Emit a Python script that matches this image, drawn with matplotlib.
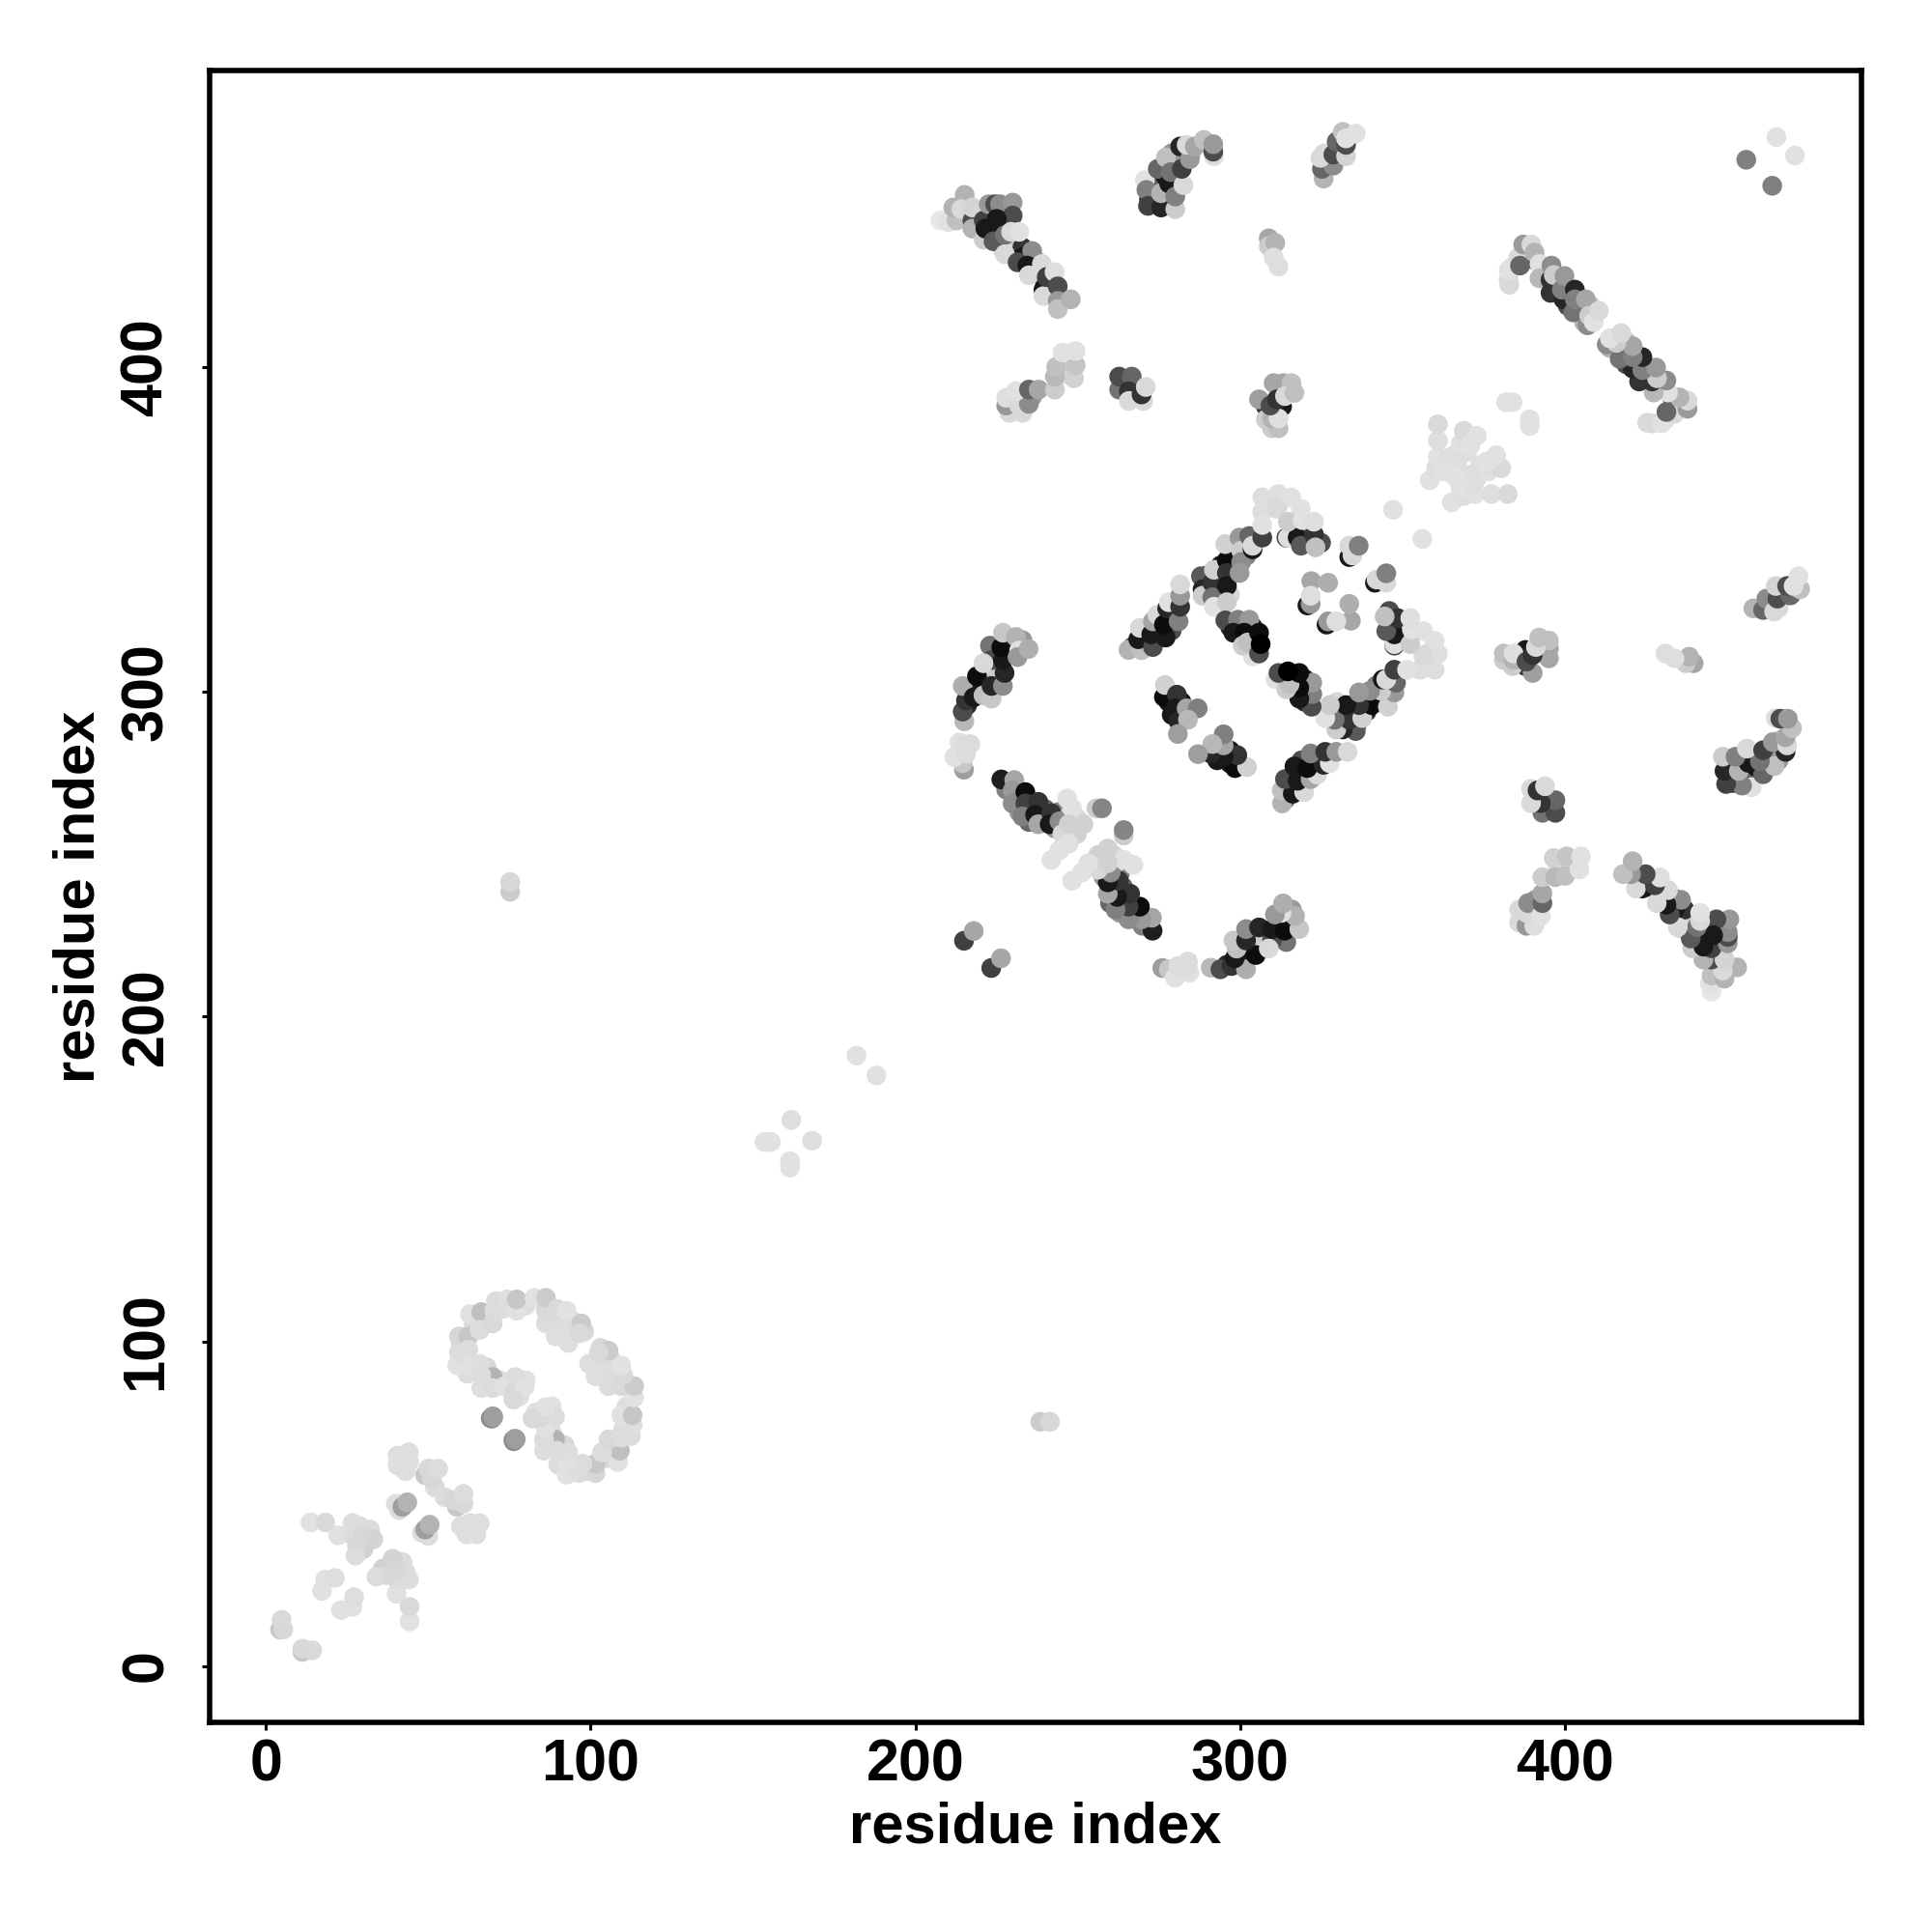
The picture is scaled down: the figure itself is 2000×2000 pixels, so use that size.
"""
Residue contact map, drawn once per pair and mirrored across the diagonal.
"""

import matplotlib.pyplot as plt
import numpy as np

plt.rcParams["font.family"] = ["Liberation Sans", "DejaVu Sans"]

TICKS = [0, 100, 200, 300, 400]

# contacts above the diagonal: i, j and grey level (0 black, 1 white)
# pairs mostly hidden under the later ones, they only show as crescents
under_i = [267, 271, 271, 275, 275, 279, 279, 280, 290, 290, 294, 294, 298, 298, 302, 304, 301, 294, 297,
           316, 320, 320, 325, 312, 317, 321, 300, 303, 304, 304, 297, 304, 278, 279, 282, 283,
           216, 219, 222, 224, 225, 229, 229, 233, 272, 273, 277, 279, 280, 277, 279, 285, 278,
           327, 330, 326, 219, 223, 226, 228, 226, 222, 229, 233, 233, 237, 238, 240, 241, 227,
           229, 233, 236, 246, 247, 264, 268, 308, 312, 310, 308, 313,
           384, 388, 391, 394, 397, 401, 405, 406, 408, 383,
           228, 232, 235, 239, 240, 243, 244, 246, 248, 250,
           29, 31, 30, 43, 51, 52, 41,
           60, 64, 68, 73, 80, 88, 91, 94, 95, 98, 62, 68, 72, 75, 78, 80, 362, 366, 367, 370]
under_j = [314, 315, 319, 318, 322, 323, 319, 325, 332, 336, 335, 339, 339, 343, 342, 347, 346, 331, 330,
           350, 349, 346, 346, 358, 352, 350, 320, 317, 320, 313, 320, 311, 297, 293, 297, 293,
           296, 301, 304, 306, 312, 312, 315, 316, 452, 456, 459, 464, 458, 450, 466, 466, 452,
           463, 467, 466, 448, 447, 448, 444, 440, 441, 437, 437, 434, 433, 429, 426, 423, 436,
           386, 386, 391, 398, 402, 395, 394, 388, 387, 386, 384, 388,
           431, 434, 433, 429, 425, 419, 418, 414, 419, 425.5,
           270, 263, 260, 261, 264, 258, 263, 261, 257, 261,
           39, 38, 36, 60, 59, 55, 48,
           99, 105, 107, 110, 111, 107, 104, 104, 106, 103, 90, 92, 88, 87, 83, 88, 371, 369, 371, 374]
under_g = [.3, .05, .1, .1, .15, .1, .3, .4, .1, .3, .05, .1, .1, .5, .5, .2, .3, .3, .85,
           .2, .05, .2, .3, .85, .85, .85, .1, .05, .1, .2, .15, .88, .1, .1, .1, .5,
           .15, .1, .15, .8, .2, .2, .1, .6, .2, .4, .1, .15, .1, .15, .6, .8, .85,
           .1, .2, .85, .8, .15, .1, .2, .1, .7, .8, .2, .1, .4, .3, .2, .1, .88,
           .85, .85, .6, .85, .85, .6, .1, .2, .2, .85, .8, .1,
           .85, .5, .3, .15, .1, .3, .2, .7, .75, .85,
           .5, .6, .4, .2, .4, .6, .5, .75, .8, .85,
           .85, .84, .82, .87, .82, .86, .86,
           .87, .85, .82, .86, .87, .85, .86, .87, .86, .85, .86, .85, .86, .85, .87, .88, .87, .88, .87, .87]

start_i = [4.3, 5.3, 4.8, 13.7, 18.2, 22.2, 26.6, 29, 32, 27, 30, 33, 28, 27.5, 17.2, 18.2, 21.2]
start_j = [11.2, 11.2, 14.2, 44.2, 44.2, 40.2, 44, 43, 42, 40, 40, 39, 37, 34, 23.1, 26.6, 27.1]
start_g = [.78, .84, .85, .88, .85, .88, .87, .86, .86, .86, .84, .83, .84, .86, .88, .88, .87]

sheet_i = [40.5, 44, 40.5, 44, 49, 51, 50, 53, 40, 42, 43.5]
sheet_j = [64.8, 65.8, 61.8, 62.8, 58.8, 57.8, 60.8, 60.8, 50, 49, 50.4]
sheet_g = [.87, .87, .87, .87, .78, .84, .85, .86, .87, .62, .7]

ring_i = [58.9, 59.4, 59.4, 62.3, 62.3, 62.8, 62.8, 66.3, 65.8, 69.8, 70.8, 70.3, 74.2, 77.2, 77.2,
          82.7, 86.2, 86.2, 86.2, 89.6, 89.2, 92.6, 93.1, 97.1, 96.6,
          65.8, 69.8, 66.3, 66.3, 69.8, 73.3, 76.7, 76.7, 79.7, 76.2, 69.2, 69.8, 76.2, 76.7]
ring_j = [92.6, 96.5, 101.5, 101.5, 97.5, 92.6, 108.4, 109, 103.5, 105.5, 112.4, 109.4, 112.9, 109.4, 112.9,
          113.4, 105.5, 109.4, 113.4, 110, 101.5, 109.4, 99.5, 105.5, 102.5,
          93, 89, 89.6, 85.6, 85.6, 86.1, 89, 84.6, 86.1, 82.1, 76.3, 76.9, 69.6, 70]
ring_g = [.88, .86, .84, .78, .86, .88, .88, .75, .86, .85, .86, .86, .87, .88, .78,
          .88, .86, .85, .8, .85, .87, .88, .87, .8, .85,
          .87, .7, .86, .87, .86, .88, .86, .85, .88, .85, .55, .62, .55, .62]

lone_i = [75.2, 75.2, 153.5, 155.5, 161.8, 181.9, 347.2, 382, 384, 456, 465.3]
lone_j = [238.5, 241.5, 161.4, 161.4, 168.2, 188, 356.2, 389.3, 389.3, 464, 471]
lone_g = [.8, .84, .88, .88, .87, .88, .88, .88, .88, .5, .88]

cross_i = [358.5, 360.4, 361, 361, 361, 362.5, 364, 365.4, 366, 368, 369.5, 369, 371, 373]
cross_j = [365.3, 369, 372.5, 377.5, 382.5, 368, 372, 367.2, 373, 376.5, 378, 380.5, 376, 379]
cross_g = [.88, .87, .88, .87, .85, .88, .87, .88, .87, .88, .87, .85, .88, .88]

hairpin_a_i = [215.1, 214.6, 215.6, 214.6, 218, 219, 221, 223.5, 223.5, 227, 223, 223.5, 221, 227.5, 227, 226.5, 227, 231, 232, 231.5, 234.9]
hairpin_a_j = [291, 294, 297.4, 301.9, 298.4, 304.9, 299, 298, 301.9, 301.9, 314.3, 309.9, 308.9, 305.9, 309.9, 313.8, 318.3, 317, 312.8, 310.8, 313.3]
hairpin_a_g = [.72, .3, .2, .68, .1, .05, .75, .78, .15, .55, .45, .3, .85, .15, .1, .05, .78, .7, .88, .6, .68]

end_a_i = [215, 214.6, 212, 213.6, 215.6, 217, 215]
end_a_j = [276.1, 278.1, 280, 284.5, 281, 284, 283.5]
end_a_g = [.62, .78, .88, .88, .86, .86, .86]

pair_i = [215, 218]
pair_j = [223.4, 226.4]
pair_g = [.25, .65]

strand_i = [226.5, 230.5, 230, 230, 233.9, 233.9, 237.9, 233, 236.9, 237.9, 241.9, 241.4, 244.4,
            246.8, 248.3, 245.3, 247.3, 249.8, 251.8, 244.4, 241.9, 247.3, 255.8, 257.5]
strand_j = [273.1, 272.9, 269.7, 265.7, 269.2, 265.7, 266.2, 261.7, 262.2, 259.3, 262.7, 259.3, 260.2,
            267.2, 264.2, 256.3, 259.3, 256.3, 259.3, 251.3, 248.3, 253.3, 264.2, 264.2]
strand_g = [.12, .65, .6, .55, .05, .25, .2, .5, .1, .65, .2, .1, .55,
            .88, .88, .85, .82, .82, .82, .88, .88, .88, .8, .52]

core_a_i = [265.7, 269.7, 268.7, 269.2, 273.2, 272.7, 273.2, 274.6, 277.1, 276.6, 277.6, 278.1, 281.1, 281.6, 281.6, 281.6]
core_a_j = [313, 312.9, 316.3, 319.8, 313.9, 317.8, 321.8, 323.8, 316.8, 320.8, 325.8, 327.7, 321.8, 326.3, 329.7, 333.2]
core_a_g = [.7, .75, .1, .85, .3, .1, .65, .85, .1, .05, .15, .88, .5, .2, .6, .85]

core_b_i = [288, 288.5, 288.5, 291.5, 292, 291.5, 292, 296, 296, 296, 296, 295.5, 299.9, 300.4, 300.4, 299.9, 302.9, 303.9, 303.9, 306.9]
core_b_j = [335.7, 331.7, 329.7, 333.7, 337.7, 329.2, 326.3, 340.6, 336.7, 332.7, 327.7, 345.6, 347.6, 343.6, 340.1, 336.7, 348.1, 344, 345.1, 347.6]
core_b_g = [.35, .15, .8, .2, .82, .45, .88, .05, .2, .1, .8, .82, .6, .8, .55, .6, .4, .1, .85, .25]

core_c_i = [314.3, 314.8, 317.8, 318.8, 322.8, 323.3, 306.9, 311.8, 315.8, 306.9, 311.3, 318.8, 314.8, 319.3, 322.8, 306.9]
core_c_j = [347.6, 347.6, 347.6, 345.1, 348.6, 344.6, 360, 361, 360, 355.5, 356.5, 356.5, 352.5, 353, 352.5, 351.5]
core_c_g = [.3, .87, .1, .35, .2, .75, .87, .87, .88, .87, .85, .88, .8, .88, .87, .88]

core_d_i = [295.5, 299.4, 302.9, 298, 301.4, 300.9, 302.4, 305.9, 305.9, 306.4]
core_d_j = [322.1, 322.3, 322.3, 318.3, 318.3, 314.3, 315.3, 311.9, 318.3, 314.8]
core_d_g = [.3, .5, .6, .1, .05, .8, .75, .3, .05, 0]

core_e_i = [333.7, 333.7, 334.7, 336.6, 322, 327.2, 320.8, 321.8, 321.8]
core_e_j = [341.6, 345.1, 342.1, 345.1, 334.2, 333.7, 326.7, 327.2, 329.7]
core_e_g = [.1, .85, .85, .5, .65, .68, .1, .6, .87]

core_g_i = [276.6, 276.9, 280.6, 280.1, 281.1, 283.6, 287, 284, 280.9]
core_g_j = [298.5, 302.2, 299.2, 295, 291, 295, 295, 291.5, 287.1]
core_g_g = [.05, .82, .2, .1, .15, .65, .5, .72, .62]

helix_i = [207.7, 210.2, 212.7, 211.7, 215.2, 214.2, 217.6, 217.6, 217.6, 221.1, 221.1, 222.6, 221.6, 224.6, 226.1, 230, 230, 225.1, 224.6, 224.1,
           227.6, 227.6, 229.5, 232, 236, 231.5, 234.5, 235, 239, 239.5, 239.5, 240.5, 242.9, 243.9, 243.9, 243.9, 247.9]
helix_j = [445.3, 444.8, 445.3, 449.3, 453.2, 448.8, 445.3, 449.3, 442.8, 445.3, 439.4, 450.3, 442.8, 450.3, 450.3, 450.8, 446.8, 445.8, 442.3, 438.9,
           440.8, 434.9, 441.8, 441.8, 435.9, 432.4, 431.4, 428.4, 431.9, 424, 422, 427.9, 429.4, 425, 420.5, 418, 421]
helix_g = [.9, .88, .75, .7, .7, .85, .3, .83, .7, .25, .8, .6, .1, .3, .55, .6, .3, .1, .1, .35,
           .45, .85, .85, .88, .55, .3, .1, .85, .85, .1, .85, .25, .87, .3, .6, .75, .7]

top_i = [270.7, 271.2, 271.7, 275.7, 274.7, 277.2, 275.7, 278.2, 278.7, 280.1, 280.1, 282.6, 282.1, 281.6, 284.6, 283.6, 286.1, 288.9, 292, 291.8, 291.8]
top_j = [457.7, 454.7, 449.8, 449.3, 461.2, 464.7, 453.7, 456.7, 460.2, 448.8, 452.7, 456.2, 461.2, 468.1, 464.2, 468.6, 468.1, 470.1, 465.1, 466.5, 468.8]
top_g = [.88, .5, .25, .15, .4, .75, .7, .1, .45, .8, .5, .85, .25, .15, .6, .85, .65, .75, .87, .3, .6]

corner_i = [325.8, 325.3, 328.8, 324.8, 328.8, 332.7, 329.8, 331.7, 332.7, 332.7, 335.7]
corner_j = [458.2, 461.2, 462.2, 464.6, 465.6, 465.1, 469.6, 472.6, 468.6, 470.6, 472.1]
corner_g = [.7, .4, .55, .85, .3, .83, .4, .75, .3, .88, .88]

spot_i = [308.9, 308.9, 310.9, 310.4, 311.9]
spot_j = [439.8, 437.4, 438.4, 433.9, 431.1]
spot_g = [.65, .8, .7, .87, .87]

arm_i = [228, 228, 232, 235, 231, 235, 238, 243, 243, 243.4, 248.9, 249.4, 245.4, 249.4]
arm_j = [388.3, 390.7, 388.3, 388.8, 392.7, 393.2, 393.2, 393.2, 397.2, 400.2, 396.7, 400.7, 404.6, 405.1]
arm_g = [.6, .87, .85, .55, .88, .4, .65, .8, .72, .75, .82, .77, .88, .88]

patch_i = [262.8, 262.8, 266.7, 265.8, 265.8, 270.2, 269.7, 271]
patch_j = [393.2, 397.2, 397.2, 392.7, 389.7, 389.7, 391.7, 394]
patch_g = [.45, .3, .4, .2, .85, .85, .2, .85]

knot_i = [309.9, 311.9, 309.9, 311.9, 305.9, 310.4, 313.4, 315.9, 309.4, 311.4, 313.9, 316.8]
knot_j = [381.3, 381.3, 384.3, 384.3, 390.2, 395.2, 395.2, 395.2, 388.3, 390.2, 391.2, 392.2]
knot_g = [.8, .75, .7, .87, .62, .65, .65, .75, .3, .2, .85, .75]

long_i = [382.8, 382.8, 385.8, 387.3, 389.8, 386.3, 390.8, 392.3, 392.3, 395.7, 395.7, 396, 396.7, 399.7, 399.2, 400, 402.7, 403.2, 403.2, 406.6, 407.1, 407.6, 409, 410.6]
long_j = [427, 430, 433.9, 437.9, 437.9, 431.4, 435.4, 431.9, 427.5, 423, 427, 431.4, 428.5, 421, 424, 428.2, 417, 424, 421, 421, 413, 416, 414, 417.5]
long_g = [.85, .88, .85, .6, .85, .4, .7, .88, .72, .2, .2, .55, .8, .15, .5, .6, .45, .15, .5, .65, .55, .8, .88, .85]

groups = [
    (under_i, under_j, under_g),
    (start_i, start_j, start_g), (sheet_i, sheet_j, sheet_g), (ring_i, ring_j, ring_g),
    (lone_i, lone_j, lone_g), (cross_i, cross_j, cross_g), (hairpin_a_i, hairpin_a_j, hairpin_a_g),
    (end_a_i, end_a_j, end_a_g), (pair_i, pair_j, pair_g), (strand_i, strand_j, strand_g),
    (core_a_i, core_a_j, core_a_g), (core_b_i, core_b_j, core_b_g), (core_c_i, core_c_j, core_c_g),
    (core_d_i, core_d_j, core_d_g), (core_e_i, core_e_j, core_e_g), (core_g_i, core_g_j, core_g_g),
    (helix_i, helix_j, helix_g), (top_i, top_j, top_g), (corner_i, corner_j, corner_g),
    (spot_i, spot_j, spot_g), (arm_i, arm_j, arm_g), (patch_i, patch_j, patch_g),
    (knot_i, knot_j, knot_g), (long_i, long_j, long_g),
]

fig = plt.figure(figsize=(10, 10), dpi=200)
ax = fig.add_axes([217 / 2000, 217 / 2000, 1710 / 2000, 1710 / 2000])

for i, j, g in groups:
    i, j, g = np.array(i), np.array(j), np.array(g)
    ax.scatter(np.r_[i, j], np.r_[j, i], c=np.r_[g, g], s=54, cmap="gray", vmin=0, vmax=1,
               linewidths=0, zorder=2)

ax.set_xlim(-17.4, 491.5)
ax.set_ylim(-17.4, 491.5)
ax.set_xticks(TICKS)
ax.set_yticks(TICKS)
ax.set_xticklabels(TICKS, fontsize=22, fontweight="bold")
ax.set_yticklabels(TICKS, fontsize=22, fontweight="bold", rotation=90, va="center")
ax.tick_params(length=3, width=1.1, pad=3)
ax.tick_params(axis="y", pad=10)
ax.set_xlabel("residue index", fontsize=21.5, fontweight="bold", labelpad=3)
ax.set_ylabel("residue index", fontsize=21.5, fontweight="bold", labelpad=5)
for spine in ax.spines.values():
    spine.set_linewidth(2)

fig.savefig("out.png", dpi=200)
